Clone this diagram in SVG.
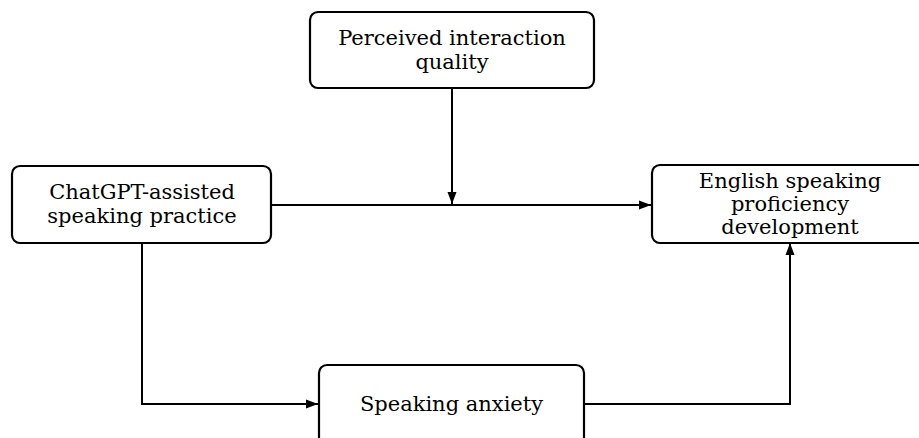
<svg xmlns="http://www.w3.org/2000/svg" width="919" height="438" viewBox="0 0 919 438">
<style>
.box{fill:#fff;stroke:#000;stroke-width:2.2}
.t{font-family:"DejaVu Serif",serif;font-size:21px;fill:#000;text-anchor:middle}
.c{fill:none;stroke:#000;stroke-width:2}
</style>
<defs>
<marker id="ah" viewBox="0 0 12 10" refX="12" refY="5" markerWidth="12" markerHeight="10" markerUnits="userSpaceOnUse" orient="auto">
<path d="M0,0.5 L12,5 L0,9.5 Z" fill="#000"/>
</marker>
</defs>
<rect width="919" height="438" fill="#fff"/>
<g id="connectors">
<path class="c" d="M272,205 H651" marker-end="url(#ah)"/>
<path class="c" d="M452,88 V204" marker-end="url(#ah)"/>
<path class="c" d="M142,243 V404 H318" marker-end="url(#ah)"/>
<path class="c" d="M584,404 H790 V243" marker-end="url(#ah)"/>
</g>
<g id="node-quality">
<rect class="box" x="310" y="12" width="284" height="76" rx="8"/>
<text class="t" x="452" y="45">Perceived interaction</text>
<text class="t" x="452" y="69">quality</text>
</g>
<g id="node-chatgpt">
<rect class="box" x="12" y="166" width="259" height="77" rx="8"/>
<text class="t" x="142" y="199">ChatGPT-assisted</text>
<text class="t" x="142" y="223">speaking practice</text>
</g>
<g id="node-english">
<rect class="box" x="652" y="165" width="276" height="78" rx="8"/>
<text class="t" x="790" y="188">English speaking</text>
<text class="t" x="790" y="211">proficiency</text>
<text class="t" x="790" y="234">development</text>
</g>
<g id="node-anxiety">
<rect class="box" x="319" y="365" width="265" height="90" rx="8"/>
<text class="t" x="451.5" y="411">Speaking anxiety</text>
</g>
</svg>
